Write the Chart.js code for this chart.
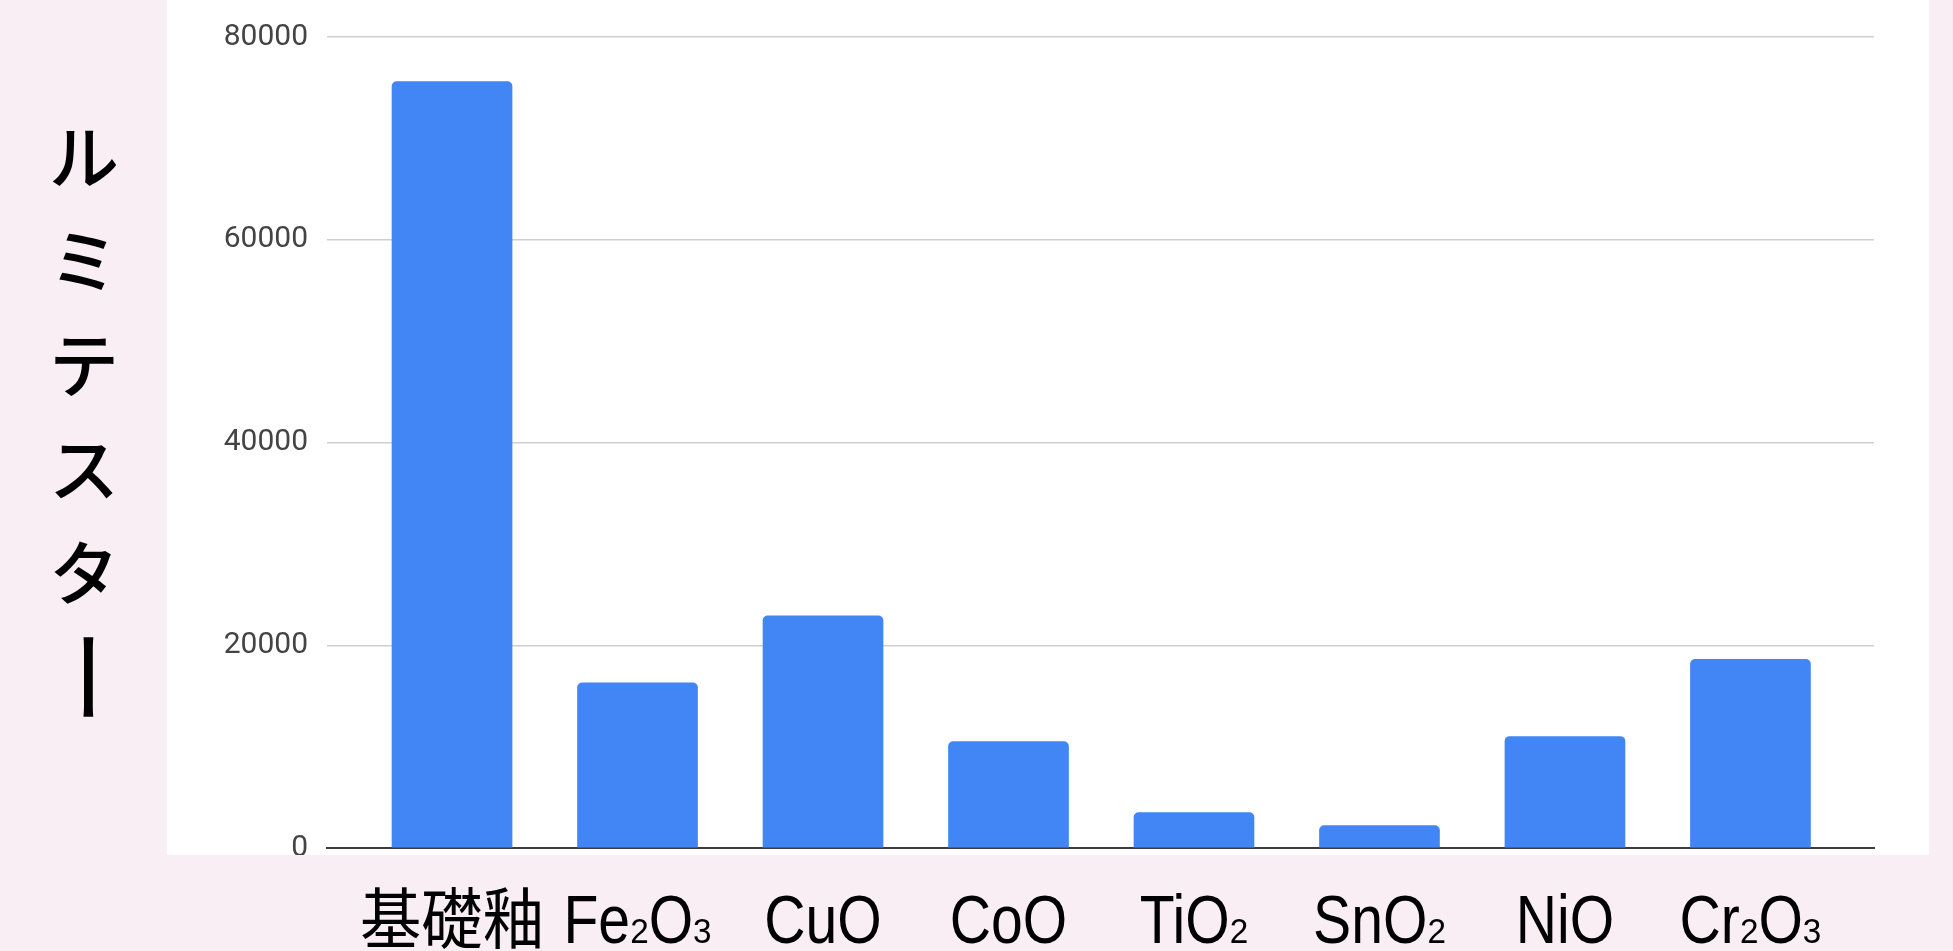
<!DOCTYPE html>
<html lang="ja">
<head>
<meta charset="utf-8">
<title>ルミテスター</title>
<script src="https://cdn.jsdelivr.net/npm/chart.js@4.4.1/dist/chart.umd.min.js"></script>
<style>
  html, body { margin: 0; padding: 0; background: #f8eef4; }
  #wrap { position: relative; width: 1953px; height: 951px; }
</style>
</head>
<body>
<div id="wrap"><canvas id="chart"></canvas></div>
<script>
// Glaze samples and their luminometer readings
const categories = ['基礎釉', 'Fe₂O₃', 'CuO', 'CoO', 'TiO₂', 'SnO₂', 'NiO', 'Cr₂O₃'];
const readings = [75600, 16300, 22900, 10500, 3500, 2200, 11000, 18600];
const yTicks = [0, 20000, 40000, 60000, 80000];
const yTitle = ['ル', 'ミ', 'テ', 'ス', 'タ', 'ー'];

const PINK = '#f8eef4';
const PANEL = { left: 167, right: 1929, bottom: 855 };
const SUBSCRIPT_DIGITS = '₀₁₂₃₄₅₆₇₈₉';

// Fonts for the category names: condensed Latin, small baseline digits, kanji
const RUN_STYLES = {
  latin: { font: '400 68px "Liberation Sans", Arial, sans-serif', sx: 0.84 },
  sub:   { font: '400 35px "Liberation Sans", Arial, sans-serif', sx: 0.95 },
  cjk:   { font: '400 66px "Noto Sans CJK JP", sans-serif', sx: 0.93 }
};

function splitRuns(text) {
  const runs = [];
  for (const ch of text) {
    const d = SUBSCRIPT_DIGITS.indexOf(ch);
    const kind = d >= 0 ? 'sub' : (/[\u3000-\u9fff]/.test(ch) ? 'cjk' : 'latin');
    const glyph = d >= 0 ? String(d) : ch;
    const last = runs[runs.length - 1];
    if (last && last.kind === kind) last.text += glyph;
    else runs.push({ kind, text: glyph });
  }
  return runs;
}

function drawFormula(ctx, text, cx, baseline) {
  const runs = splitRuns(text);
  let total = 0;
  runs.forEach(r => {
    const st = RUN_STYLES[r.kind];
    ctx.font = st.font;
    r.w = ctx.measureText(r.text).width * st.sx;
    total += r.w;
  });
  let x = cx - total / 2;
  runs.forEach(r => {
    const st = RUN_STYLES[r.kind];
    ctx.save();
    ctx.font = st.font;
    ctx.translate(x, baseline);
    ctx.scale(st.sx, 1);
    ctx.fillText(r.text, 0, 0);
    ctx.restore();
    x += r.w;
  });
}

// Pink slide with the white chart panel on top of it
const panelBackground = {
  id: 'panelBackground',
  beforeDraw(chart) {
    const { ctx, width, height } = chart;
    ctx.save();
    ctx.fillStyle = PINK;
    ctx.fillRect(0, 0, width, height);
    ctx.fillStyle = '#ffffff';
    ctx.fillRect(PANEL.left, 0, PANEL.right - PANEL.left, PANEL.bottom);
    ctx.restore();
  },
  afterDraw(chart) {
    // the panel edge cuts off anything that runs below it
    const { ctx, width } = chart;
    ctx.save();
    ctx.fillStyle = PINK;
    ctx.fillRect(0, PANEL.bottom, width, 28);
    ctx.restore();
  }
};

// Category names under the bars, placed from the x scale
const categoryLabels = {
  id: 'categoryLabels',
  afterDraw(chart) {
    const { ctx } = chart;
    const xs = chart.scales.x;
    const baseline = chart.chartArea.bottom + 95;
    ctx.save();
    ctx.fillStyle = '#000';
    ctx.textAlign = 'left';
    ctx.textBaseline = 'alphabetic';
    categories.forEach((name, i) => drawFormula(ctx, name, xs.getPixelForValue(i), baseline));
    ctx.restore();
  }
};

// Vertical (tategaki) axis title on the left strip
const verticalTitle = {
  id: 'verticalTitle',
  afterDraw(chart) {
    const { ctx } = chart;
    const x = 84, y0 = 157, step = 104;
    ctx.save();
    ctx.fillStyle = '#000';
    ctx.textAlign = 'center';
    ctx.textBaseline = 'middle';
    yTitle.forEach((ch, i) => {
      const y = y0 + i * step;
      if (ch === 'ー') {
        // long vowel mark turns upright in vertical writing
        ctx.save();
        ctx.font = '400 100px "Noto Sans CJK JP", sans-serif';
        ctx.translate(x + 4, y);
        ctx.rotate(Math.PI / 2);
        ctx.fillText(ch, 0, 0);
        ctx.restore();
      } else {
        ctx.font = '500 70px "Noto Sans CJK JP", sans-serif';
        ctx.fillText(ch, x, y);
      }
    });
    ctx.restore();
  }
};

const points = readings.map((v, i) => ({ x: i, y: v }));

new Chart(document.getElementById('chart'), {
  type: 'bar',
  data: {
    datasets: [{
      data: points,
      backgroundColor: '#4285f4',
      borderRadius: 5,
      borderSkipped: 'start',
      barThickness: 'flex',
      barPercentage: 0.647,
      categoryPercentage: 1
    }]
  },
  options: {
    responsive: true,
    maintainAspectRatio: false,
    animation: false,
    devicePixelRatio: 1,
    layout: { padding: { top: 31, right: 79, bottom: 0, left: 0 } },
    plugins: {
      legend: { display: false },
      tooltip: { enabled: false }
    },
    scales: {
      x: {
        type: 'linear',
        min: -0.674,
        max: 7.666,
        offset: false,
        bounds: 'data',
        afterFit(scale) { scale.height = 103; },
        afterBuildTicks(scale) { scale.ticks = categories.map((_, i) => ({ value: i })); },
        grid: { display: false, drawTicks: false },
        border: { display: true, color: '#3c3c3c', width: 2 },
        ticks: { display: false }
      },
      y: {
        min: 0,
        max: 80000,
        afterFit(scale) { scale.width = 327; },
        afterBuildTicks(scale) { scale.ticks = yTicks.map(v => ({ value: v })); },
        grid: { color: '#cfcfcf', lineWidth: 1.5, drawTicks: false },
        border: { display: false },
        ticks: {
          padding: 19,
          color: '#444',
          font: { family: 'Roboto, sans-serif', size: 30 },
          callback: (v) => String(v)
        }
      }
    }
  },
  plugins: [panelBackground, categoryLabels, verticalTitle]
});
</script>
</body>
</html>
